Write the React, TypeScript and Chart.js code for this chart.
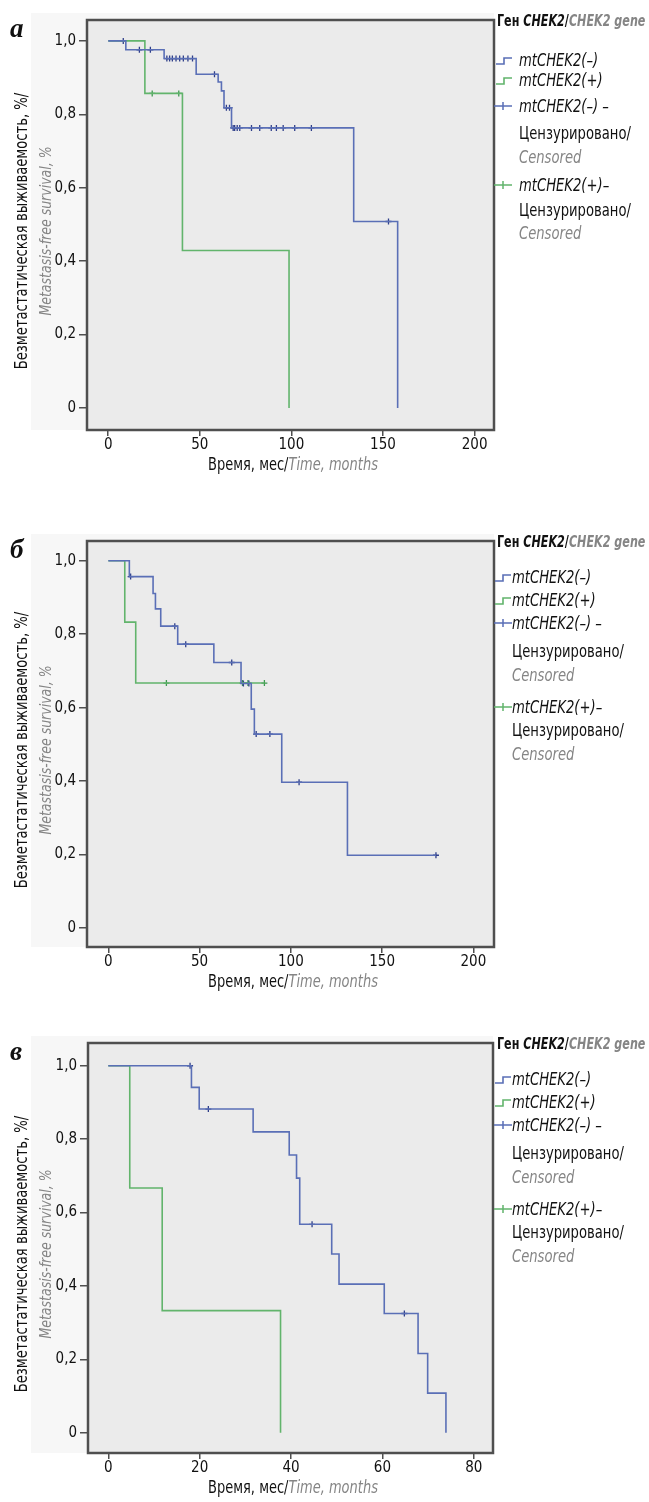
import React, { useEffect, useRef } from "react";
import { Chart, registerables } from "chart.js";

Chart.register(...registerables);

const FONT =
  "'Liberation Sans Narrow', 'Arial Narrow', 'DejaVu Sans Condensed', 'Roboto Condensed', sans-serif";
const SERIF = "'Liberation Serif', 'DejaVu Serif', serif";

// ---------------- shared axis data ----------------
const yTicks = [0, 0.2, 0.4, 0.6, 0.8, 1.0];
const yTickLabels = ["0", "0,2", "0,4", "0,6", "0,8", "1,0"];

// ---------------- Panel а ----------------
const aNegTimes = [0, 9.6, 30.5, 48.0, 60.0, 61.8, 63.2, 67.3, 134.0, 158.0];
const aNegSurv = [1.0, 0.976, 0.952, 0.909, 0.888, 0.864, 0.818, 0.763, 0.508, 0.0];
const aNegCensored = [
  8.2, 17, 23, 32, 33.5, 35, 37, 39, 41, 43.5, 46, 58, 64.5, 66.2, 68.2, 69,
  70.4, 71.8, 78.2, 82.7, 89, 91.8, 95.5, 101.8, 110.9, 153,
];
const aPosTimes = [0, 20, 40.5, 98.7];
const aPosSurv = [1.0, 0.857, 0.429, 0.0];
const aPosCensored = [24, 38.5];
const aXTicks = [0, 50, 100, 150, 200];

// ---------------- Panel б ----------------
const bNegTimes = [0, 11.5, 24.5, 25.8, 28.7, 38.0, 57.8, 72.7, 78.3, 80.0, 95.0, 131.0];
const bNegSurv = [1.0, 0.957, 0.911, 0.869, 0.822, 0.773, 0.723, 0.666, 0.596, 0.528, 0.397, 0.198];
const bNegCensored = [12.2, 36.4, 42.4, 67.6, 74.0, 77.0, 81.0, 88.5, 104.5, 179.5];
const bPosTimes = [0, 9.0, 15.0];
const bPosSurv = [1.0, 0.833, 0.667];
const bPosCensored = [31.8, 73.5, 76.5, 85.5];
const bXTicks = [0, 50, 100, 150, 200];

// ---------------- Panel в ----------------
const cNegTimes = [0, 18.2, 19.9, 31.7, 39.6, 41.2, 41.9, 48.9, 50.5, 60.4, 67.8, 69.9, 73.9];
const cNegSurv = [1.0, 0.941, 0.882, 0.82, 0.757, 0.694, 0.568, 0.487, 0.405, 0.325, 0.216, 0.108, 0.0];
const cNegCensored = [17.9, 21.9, 44.6, 64.8];
const cPosTimes = [0, 4.7, 11.8, 37.7];
const cPosSurv = [1.0, 0.667, 0.333, 0.0];
const cPosCensored: number[] = [];
const cXTicks = [0, 20, 40, 60, 80];

// ---------------- styles ----------------
const BLUE = "#5a6fb6";
const BLUE_MARK = "#2f3f8a";
const GREEN = "#62b46c";
const GREEN_MARK = "#3f9a50";
const GRAY_TEXT = "#858585";
const FRAME = "#4f4f4f";
const PLOT_BG = "#ebebeb";
const SX = 0.86;

type Pt = { x: number; y: number };

function curvePoints(times: number[], surv: number[], censored: number[]): Pt[] {
  const pts = times.map((t, i) => ({ x: t, y: surv[i] }));
  const lastT = times[times.length - 1];
  const lastC = censored.length ? Math.max(...censored) : -Infinity;
  if (lastC > lastT) pts.push({ x: lastC, y: surv[surv.length - 1] });
  return pts;
}

function censorPoints(times: number[], surv: number[], censored: number[]): Pt[] {
  return censored.map((c) => {
    let y = surv[0];
    times.forEach((t, i) => {
      if (t <= c) y = surv[i];
    });
    return { x: c, y };
  });
}

type Panel = {
  letter: string;
  frameTop: number;
  frameBottom: number;
  frameLeft: number;
  frameRight: number;
  xMin: number;
  xMax: number;
  yMin: number;
  yMax: number;
  xTicks: number[];
  neg: [number[], number[], number[]];
  pos: [number[], number[], number[]];
  legendTextX: number;
  stepIconX: number;
  rows: number[];
};

const panels: Panel[] = [
  {
    letter: "а",
    frameTop: 20,
    frameBottom: 430,
    frameLeft: 87,
    frameRight: 494,
    xMin: -11.6,
    xMax: 210.6,
    yMin: -0.06,
    yMax: 1.057,
    xTicks: aXTicks,
    neg: [aNegTimes, aNegSurv, aNegCensored],
    pos: [aPosTimes, aPosSurv, aPosCensored],
    legendTextX: 519,
    stepIconX: 496,
    rows: [40, 60, 86, 113, 137, 165, 190, 213],
  },
  {
    letter: "б",
    frameTop: 541,
    frameBottom: 947,
    frameLeft: 87,
    frameRight: 494,
    xMin: -11.7,
    xMax: 211.3,
    yMin: -0.052,
    yMax: 1.054,
    xTicks: bXTicks,
    neg: [bNegTimes, bNegSurv, bNegCensored],
    pos: [bPosTimes, bPosSurv, bPosCensored],
    legendTextX: 512,
    stepIconX: 495,
    rows: [36, 59, 82, 110, 134, 166, 189, 213],
  },
  {
    letter: "в",
    frameTop: 1043,
    frameBottom: 1453,
    frameLeft: 88,
    frameRight: 493,
    xMin: -4.44,
    xMax: 84.2,
    yMin: -0.055,
    yMax: 1.062,
    xTicks: cXTicks,
    neg: [cNegTimes, cNegSurv, cNegCensored],
    pos: [cPosTimes, cPosSurv, cPosCensored],
    legendTextX: 512,
    stepIconX: 495,
    rows: [36, 59, 82, 110, 134, 166, 189, 213],
  },
];

const PAD_TOP = 20;
const X_AXIS_H = 30;
const CANVAS_W = 649;

const framePlugin = {
  id: "kmFrame",
  beforeDatasetsDraw(chart: any) {
    const { ctx, chartArea: a } = chart;
    ctx.save();
    ctx.fillStyle = PLOT_BG;
    ctx.fillRect(a.left, a.top, a.right - a.left, a.bottom - a.top);
    ctx.restore();
  },
  afterDraw(chart: any) {
    const { ctx, chartArea: a } = chart;
    ctx.save();
    ctx.strokeStyle = FRAME;
    ctx.lineWidth = 2.5;
    ctx.strokeRect(a.left, a.top, a.right - a.left, a.bottom - a.top);
    ctx.restore();
  },
};

function KMChart({ p }: { p: Panel }) {
  const ref = useRef<HTMLCanvasElement>(null);
  const frameH = p.frameBottom - p.frameTop;
  const H = PAD_TOP + frameH + X_AXIS_H + 4;
  useEffect(() => {
    const [nt, ns, nc] = p.neg;
    const [pt, ps, pc] = p.pos;
    const chart = new Chart(ref.current as HTMLCanvasElement, {
      type: "line",
      data: {
        datasets: [
          {
            data: curvePoints(nt, ns, nc),
            borderColor: BLUE,
            borderWidth: 1.6,
            stepped: "before",
            pointRadius: 0,
            fill: false,
          },
          {
            data: curvePoints(pt, ps, pc),
            borderColor: GREEN,
            borderWidth: 1.6,
            stepped: "before",
            pointRadius: 0,
            fill: false,
          },
          {
            data: censorPoints(nt, ns, nc),
            showLine: false,
            pointStyle: "cross",
            pointRadius: 3,
            pointBorderColor: BLUE_MARK,
            pointBorderWidth: 1.3,
          },
          {
            data: censorPoints(pt, ps, pc),
            showLine: false,
            pointStyle: "cross",
            pointRadius: 3,
            pointBorderColor: GREEN_MARK,
            pointBorderWidth: 1.3,
          },
        ] as any,
      },
      options: {
        responsive: false,
        animation: false,
        events: [],
        layout: {
          padding: {
            top: PAD_TOP,
            right: CANVAS_W - p.frameRight,
            bottom: H - PAD_TOP - frameH - X_AXIS_H,
            left: 0,
          },
        },
        plugins: { legend: { display: false }, tooltip: { enabled: false } },
        scales: {
          x: {
            type: "linear",
            min: p.xMin,
            max: p.xMax,
            afterBuildTicks: (s: any) => {
              s.ticks = p.xTicks.map((v) => ({ value: v }));
            },
            afterFit: (s: any) => {
              s.height = X_AXIS_H;
            },
            ticks: {
              color: "#111",
              font: { family: FONT, size: 15 },
              padding: 0,
              maxRotation: 0,
              autoSkip: false,
              callback: (v: any) => String(v),
            },
            grid: {
              drawOnChartArea: false,
              drawTicks: true,
              tickLength: 6,
              color: FRAME,
              lineWidth: 1.5,
            },
            border: { display: false },
          },
          y: {
            type: "linear",
            min: p.yMin,
            max: p.yMax,
            afterBuildTicks: (s: any) => {
              s.ticks = yTicks.map((v) => ({ value: v }));
            },
            afterFit: (s: any) => {
              s.width = p.frameLeft;
            },
            ticks: {
              color: "#111",
              font: { family: FONT, size: 15 },
              padding: 3,
              autoSkip: false,
              callback: (_v: any, i: number) => yTickLabels[i],
            },
            grid: {
              drawOnChartArea: false,
              drawTicks: true,
              tickLength: 8,
              color: FRAME,
              lineWidth: 1.5,
            },
            border: { display: false },
          },
        },
      } as any,
      plugins: [framePlugin],
    });
    return () => chart.destroy();
  }, []);
  return (
    <canvas
      ref={ref}
      width={CANVAS_W}
      height={H}
      style={{ position: "absolute", left: 0, top: p.frameTop - PAD_TOP }}
    />
  );
}

function StepIcon({ x, y, color }: { x: number; y: number; color: string }) {
  return (
    <svg width={16} height={14} style={{ position: "absolute", left: x, top: y - 7 }}>
      <path d="M0 11 H8 V5 H16" stroke={color} strokeWidth={1.6} fill="none" />
    </svg>
  );
}

function CensorIcon({ x, y, color }: { x: number; y: number; color: string }) {
  return (
    <svg width={18} height={14} style={{ position: "absolute", left: x, top: y - 7 }}>
      <path d="M0 7 H18 M9 3 V11" stroke={color} strokeWidth={1.5} fill="none" />
    </svg>
  );
}

function Txt({
  x,
  y,
  children,
  style,
  sx = SX,
}: {
  x: number;
  y: number;
  children: any;
  style?: any;
  sx?: number;
}) {
  return (
    <div
      style={{
        position: "absolute",
        left: x,
        top: y,
        transform: `translateY(-50%) scaleX(${sx})`,
        transformOrigin: "left center",
        whiteSpace: "nowrap",
        fontFamily: FONT,
        fontSize: 17,
        lineHeight: "20px",
        color: "#111",
        ...style,
      }}
    >
      {children}
    </div>
  );
}

function PanelView({ p }: { p: Panel }) {
  const ft = p.frameTop;
  const cy = (p.frameTop + p.frameBottom) / 2 + 6;
  const cx = (p.frameLeft + p.frameRight) / 2 + 2;
  const tx = p.legendTextX;
  const rows = p.rows.map((d) => ft + d);
  return (
    <>
      <div
        style={{
          position: "absolute",
          left: 31,
          top: p.frameTop - 7,
          width: p.frameRight - 31,
          height: p.frameBottom - p.frameTop + 7,
          background: "#f7f7f7",
        }}
      />
      <KMChart p={p} />
      {/* panel letter */}
      <div
        style={{
          position: "absolute",
          left: 10,
          top: ft + 8,
          transform: "translateY(-50%)",
          fontFamily: SERIF,
          fontWeight: "bold",
          fontStyle: "italic",
          fontSize: 27,
          lineHeight: "30px",
          color: "#111",
        }}
      >
        {p.letter}
      </div>
      {/* y axis title */}
      <div
        style={{
          position: "absolute",
          left: 21,
          top: cy,
          transform: "translate(-50%, -50%) rotate(-90deg) scaleX(0.86)",
          whiteSpace: "nowrap",
          fontFamily: FONT,
          fontSize: 17,
          lineHeight: "20px",
          color: "#111",
        }}
      >
        Безметастатическая выживаемость, %/
      </div>
      <div
        style={{
          position: "absolute",
          left: 46,
          top: cy,
          transform: "translate(-50%, -50%) rotate(-90deg) scaleX(0.87)",
          whiteSpace: "nowrap",
          fontFamily: FONT,
          fontSize: 16,
          lineHeight: "20px",
          fontStyle: "italic",
          color: GRAY_TEXT,
        }}
      >
        Metastasis-free survival, %
      </div>
      {/* x axis title */}
      <div
        style={{
          position: "absolute",
          left: cx,
          top: p.frameBottom + 34,
          transform: "translate(-50%, -50%) scaleX(0.85)",
          whiteSpace: "nowrap",
          fontFamily: FONT,
          fontSize: 17,
          lineHeight: "20px",
          color: "#111",
        }}
      >
        Время, мес/<span style={{ fontStyle: "italic", color: GRAY_TEXT }}>Time, months</span>
      </div>
      {/* legend */}
      <Txt x={497} y={ft + 1} sx={0.8} style={{ fontWeight: "bold", fontSize: 15.5 }}>
        Ген <i>CHEK2</i>/<i style={{ color: GRAY_TEXT }}>CHEK2 gene</i>
      </Txt>
      <StepIcon x={p.stepIconX} y={rows[0]} color={BLUE} />
      <Txt x={tx} y={rows[0]} style={{ fontStyle: "italic" }}>
        mtCHEK2(–)
      </Txt>
      <StepIcon x={p.stepIconX} y={rows[1]} color={GREEN} />
      <Txt x={tx} y={rows[1]} style={{ fontStyle: "italic" }}>
        mtCHEK2(+)
      </Txt>
      <CensorIcon x={494} y={rows[2]} color={BLUE} />
      <Txt x={tx} y={rows[2]} style={{ fontStyle: "italic" }}>
        mtCHEK2(–) –
      </Txt>
      <Txt x={tx} y={rows[3]}>
        Цензурировано/
      </Txt>
      <Txt x={tx} y={rows[4]} style={{ fontStyle: "italic", color: GRAY_TEXT }}>
        Censored
      </Txt>
      <CensorIcon x={494} y={rows[5]} color={GREEN} />
      <Txt x={tx} y={rows[5]} style={{ fontStyle: "italic" }}>
        mtCHEK2(+)–
      </Txt>
      <Txt x={tx} y={rows[6]}>
        Цензурировано/
      </Txt>
      <Txt x={tx} y={rows[7]} style={{ fontStyle: "italic", color: GRAY_TEXT }}>
        Censored
      </Txt>
    </>
  );
}

export default function App() {
  return (
    <div
      style={{
        position: "absolute",
        left: 0,
        top: 0,
        width: 649,
        height: 1502,
        background: "#fff",
        overflow: "hidden",
      }}
    >
      {panels.map((p) => (
        <PanelView key={p.letter} p={p} />
      ))}
    </div>
  );
}
